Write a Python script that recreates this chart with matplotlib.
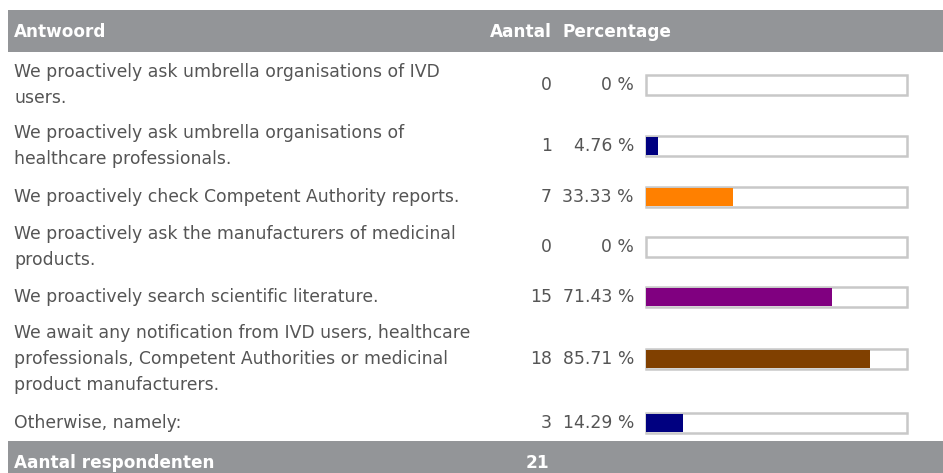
import matplotlib
matplotlib.use("Agg")
import matplotlib.pyplot as plt
from matplotlib.patches import Rectangle

plt.rcParams['font.family'] = ['DejaVu Sans']

answers = [
    "We proactively ask umbrella organisations of IVD\nusers.",
    "We proactively ask umbrella organisations of\nhealthcare professionals.",
    "We proactively check Competent Authority reports.",
    "We proactively ask the manufacturers of medicinal\nproducts.",
    "We proactively search scientific literature.",
    "We await any notification from IVD users, healthcare\nprofessionals, Competent Authorities or medicinal\nproduct manufacturers.",
    "Otherwise, namely:",
]
counts = [0, 1, 7, 0, 15, 18, 3]
percentages = [0, 4.76, 33.33, 0, 71.43, 85.71, 14.29]
pct_labels = ["0 %", "4.76 %", "33.33 %", "0 %", "71.43 %", "85.71 %", "14.29 %"]
bar_colors = ["#000080", "#000080", "#FF8000", "#000080", "#800080", "#804000", "#000080"]
total_respondents = 21
header_labels = ["Antwoord", "Aantal", "Percentage"]
footer_label = "Aantal respondenten"

# layout (pixel coordinates)
W, H = 943, 473
row_centers = [85, 146, 197, 247, 297, 359, 423]
bar_left, bar_w, bar_h = 646, 261, 20
gray = "#939598"
text_col = "#555555"
fs = 12.4
hfs = 12.2

fig = plt.figure(figsize=(W / 100, H / 100), dpi=100)
ax = fig.add_axes([0, 0, 1, 1])
ax.set_xlim(0, W)
ax.set_ylim(H, 0)
ax.axis("off")

# header / footer
ax.add_patch(Rectangle((8, 10), W - 8, 42, facecolor=gray, edgecolor="none"))
ax.add_patch(Rectangle((8, 441), W - 8, 40, facecolor=gray, edgecolor="none"))
ax.text(14, 32, header_labels[0], color="white", fontsize=hfs, fontweight="bold", va="center", ha="left")
ax.text(552, 32, header_labels[1], color="white", fontsize=hfs, fontweight="bold", va="center", ha="right")
ax.text(563, 32, header_labels[2], color="white", fontsize=hfs, fontweight="bold", va="center", ha="left")
ax.text(14, 463, footer_label, color="white", fontsize=hfs, fontweight="bold", va="center", ha="left")
ax.text(549, 463, str(total_respondents), color="white", fontsize=hfs, fontweight="bold", va="center", ha="right")

scale = bar_w / 100.0
for yc, ans, c, p, pl, col in zip(row_centers, answers, counts, percentages, pct_labels, bar_colors):
    ax.text(14, yc, ans, color=text_col, fontsize=fs, va="center", ha="left", linespacing=1.57)
    ax.text(552, yc, str(c), color=text_col, fontsize=fs, va="center", ha="right")
    ax.text(634, yc, pl, color=text_col, fontsize=fs, va="center", ha="right")
    # background frame
    ax.barh(yc, bar_w, left=bar_left, height=bar_h, color="white", edgecolor="#c8c8c8", linewidth=1.8)
    ax.barh(yc, p * scale, left=bar_left, height=bar_h - 2, color=col, edgecolor="none")

fig.savefig("out.png", dpi=100, facecolor="white")
